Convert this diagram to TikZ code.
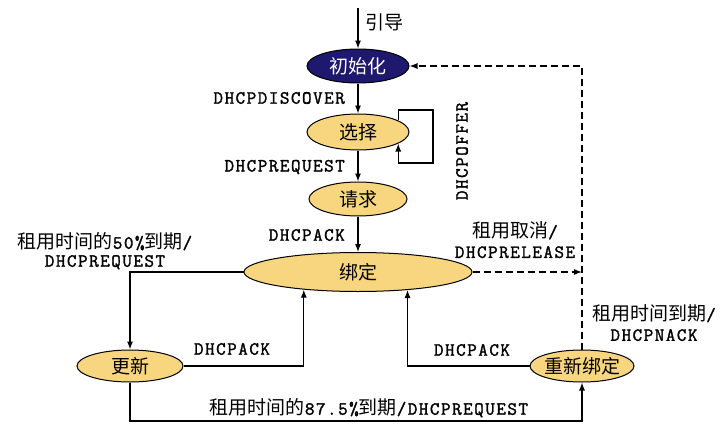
\documentclass[tikz,border=0pt]{standalone}
\usepackage{fontspec}
\newfontfamily\cjk{Noto Sans CJK SC}
\newfontfamily\monof[LetterSpace=8,AutoFakeBold=1.6]{Latin Modern Mono}
\usetikzlibrary{arrows.meta,shapes.geometric}
\definecolor{navy}{RGB}{30,24,110}
\definecolor{lease}{RGB}{248,214,128}
\newcommand\mt[1]{{\monof\bfseries\fontsize{18.6}{20}\selectfont #1}}
\newcommand\zb[1]{\makebox[0pt]{#1}}
\begin{document}
\begin{tikzpicture}[x=1pt,y=-1pt,
  stbox/.style={ellipse,draw=black,line width=1pt,fill=lease,inner sep=0pt,
    font=\cjk\fontsize{19}{19}\selectfont},
  line/.style={line width=1.1pt},
  arr/.style={line,-{Latex[length=8pt,width=6pt]}},
  dashline/.style={dash pattern=on 7pt off 4pt},
  mlbl/.style={font=\monof\bfseries\fontsize{18.6}{20}\selectfont,inner sep=0pt},
  clbl/.style={font=\cjk\fontsize{19}{20}\selectfont,inner sep=0pt,align=center}
]
\useasboundingbox (0,0) rectangle (722,423);
% states
\node[stbox,fill=navy,text=white,minimum width=102pt,minimum height=34pt] (init) at (358,66) {\zb{初始化}};
\node[stbox,minimum width=102pt,minimum height=36pt] (sel) at (358,132) {\zb{选择}};
\node[stbox,minimum width=98pt,minimum height=34pt] (req) at (358,199) {\zb{请求}};
\node[stbox,minimum width=228pt,minimum height=39pt] (bind) at (358,272) {\zb{绑定}};
\node[stbox,minimum width=106pt,minimum height=32pt] (renew) at (130,366) {\zb{更新}};
\node[stbox,minimum width=104pt,minimum height=32pt] (rebind) at (582,366) {\zb{重新绑定}};
% coordinates
\coordinate (start) at (358,8);
\coordinate (lpA) at (433,110);
\coordinate (lpB) at (433,163);
\coordinate (bot) at (130,421);
% connectors
\draw[arr] (start) -- (init.north);
\draw[arr] (init.south) -- (sel.north);
\draw[arr] (sel.16) |- (lpA) -- (lpB) -| (sel.-16);
\draw[arr] (sel.south) -- (req.north);
\draw[arr] (req.south) -- (bind.north);
\draw[arr] (bind.west) -| (renew.north);
\draw[arr] (renew.east) -| (bind.198.5);
\draw[arr] (rebind.west) -| (bind.-20.2);
\draw[arr] (renew.south) -- (bot) -| (rebind.south);
\draw[arr,dashline] (rebind.north) |- (init.east);
\draw[arr,dashline] (bind.east) -- (bind.east -| rebind.north);
% labels
\node[clbl,anchor=west] (lguide) at (365,22) {引导};
\node[mlbl,anchor=east] (ldisc) at (345,98) {DHCPDISCOVER};
\node[mlbl,rotate=90] (loffer) at (462,151) {DHCPOFFER};
\node[mlbl,anchor=east] (lreq) at (345,167) {DHCPREQUEST};
\node[mlbl,anchor=east] (lack) at (345,235) {DHCPACK};
\node[clbl] (lrel) at (515,240) {租用取消\mt{/}\\\mt{DHCPRELEASE}};
\node[clbl] (lfifty) at (105,251) {租用时间的\mt{50\%}到期\mt{/}\\[-2pt]\mt{DHCPREQUEST}};
\node[clbl] (lnack) at (654,323) {租用时间到期\mt{/}\\\mt{DHCPNACK}};
\node[mlbl] (lack1) at (232,349) {DHCPACK};
\node[mlbl] (lack2) at (472,350) {DHCPACK};
\node[clbl] (lseven) at (369,408) {租用时间的\mt{87.5\%}到期\mt{/DHCPREQUEST}};
\end{tikzpicture}
\end{document}
